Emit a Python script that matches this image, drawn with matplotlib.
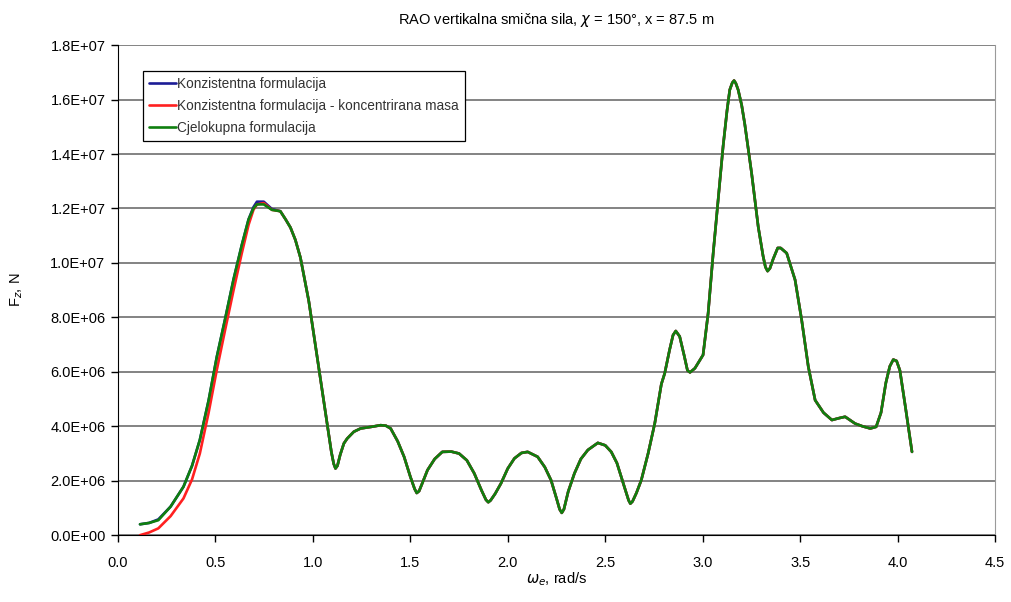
import matplotlib
matplotlib.use("Agg")
import matplotlib.pyplot as plt
from matplotlib.ticker import FuncFormatter, MultipleLocator

plt.rcParams['font.family'] = ['Liberation Sans', 'DejaVu Sans']

# Encounter frequency, rad/s
omega = [0.113, 0.16, 0.207, 0.27, 0.336, 0.38, 0.42, 0.465, 0.507, 0.55, 0.593,
         0.635, 0.67, 0.695, 0.713, 0.748, 0.79, 0.833, 0.86, 0.885, 0.91, 0.936,
         0.979, 1.022, 1.05, 1.073, 1.095, 1.107, 1.116, 1.126, 1.14, 1.159, 1.176,
         1.21, 1.245, 1.3, 1.348, 1.375, 1.399, 1.435, 1.468, 1.50, 1.522, 1.533,
         1.545, 1.562, 1.588, 1.625, 1.664, 1.71, 1.75, 1.79, 1.828, 1.865, 1.888,
         1.9, 1.912, 1.935, 1.965, 2.0, 2.034, 2.07, 2.102, 2.153, 2.19, 2.222,
         2.25, 2.266, 2.277, 2.288, 2.31, 2.342, 2.375, 2.411, 2.462, 2.50, 2.531,
         2.56, 2.582, 2.605, 2.62, 2.629, 2.64, 2.66, 2.685, 2.72, 2.754, 2.788,
         2.805, 2.83, 2.848, 2.862, 2.882, 2.905, 2.922, 2.935, 2.96, 3.002, 3.028,
         3.054, 3.079, 3.105, 3.125, 3.139, 3.152, 3.161, 3.17, 3.182, 3.20, 3.216,
         3.251, 3.285, 3.31, 3.322, 3.333, 3.345, 3.362, 3.385, 3.40, 3.431, 3.474,
         3.508, 3.542, 3.577, 3.62, 3.663, 3.70, 3.731, 3.782, 3.82, 3.86, 3.89,
         3.915, 3.94, 3.96, 3.978, 3.995, 4.012, 4.04, 4.074]

# Low-frequency part where the three formulations differ
low_blue = [0.40e6, 0.45e6, 0.58e6, 1.05e6, 1.78e6, 2.55e6, 3.50e6, 4.95e6,
            6.55e6, 7.95e6, 9.40e6, 10.65e6, 11.60e6, 12.05e6, 12.25e6, 12.25e6,
            11.98e6, 11.90e6]
low_red = [0.00e6, 0.10e6, 0.25e6, 0.70e6, 1.35e6, 2.05e6, 3.00e6, 4.50e6,
           6.07e6, 7.55e6, 9.00e6, 10.35e6, 11.40e6, 11.95e6, 12.15e6, 12.20e6,
           11.95e6, 11.90e6]
low_green = [0.40e6, 0.45e6, 0.55e6, 1.05e6, 1.78e6, 2.55e6, 3.50e6, 4.95e6,
             6.55e6, 7.95e6, 9.40e6, 10.65e6, 11.60e6, 12.00e6, 12.15e6, 12.15e6,
             11.95e6, 11.90e6]

# Common part above ~0.85 rad/s
high = [11.60e6, 11.30e6, 10.85e6, 10.20e6, 8.60e6, 6.55e6, 5.20e6, 4.10e6,
        3.05e6, 2.62e6, 2.45e6, 2.55e6, 2.95e6, 3.37e6, 3.55e6, 3.80e6, 3.92e6,
        3.98e6, 4.04e6, 4.02e6, 3.92e6, 3.45e6, 2.88e6, 2.15e6, 1.70e6, 1.55e6,
        1.62e6, 1.92e6, 2.39e6, 2.80e6, 3.06e6, 3.07e6, 3.00e6, 2.75e6, 2.27e6,
        1.65e6, 1.30e6, 1.21e6, 1.28e6, 1.52e6, 1.90e6, 2.45e6, 2.82e6, 3.02e6,
        3.06e6, 2.88e6, 2.50e6, 2.02e6, 1.35e6, 0.95e6, 0.82e6, 0.95e6, 1.60e6,
        2.27e6, 2.80e6, 3.13e6, 3.39e6, 3.30e6, 3.06e6, 2.65e6, 2.14e6, 1.62e6,
        1.28e6, 1.16e6, 1.24e6, 1.55e6, 2.02e6, 3.00e6, 4.10e6, 5.55e6, 5.94e6,
        6.80e6, 7.35e6, 7.50e6, 7.30e6, 6.60e6, 6.05e6, 5.98e6, 6.13e6, 6.62e6,
        8.15e6, 10.36e6, 12.30e6, 14.30e6, 15.60e6, 16.36e6, 16.62e6, 16.70e6,
        16.60e6, 16.36e6, 15.80e6, 15.10e6, 13.30e6, 11.33e6, 10.25e6, 9.85e6,
        9.70e6, 9.80e6, 10.15e6, 10.55e6, 10.55e6, 10.36e6, 9.38e6, 7.90e6,
        6.19e6, 4.96e6, 4.50e6, 4.23e6, 4.30e6, 4.35e6, 4.10e6, 4.00e6, 3.92e6,
        3.98e6, 4.50e6, 5.60e6, 6.20e6, 6.45e6, 6.40e6, 6.05e6, 4.72e6, 3.06e6]

f_blue = low_blue + high
f_red = low_red + high
f_green = low_green + high

series_names = ["Konzistentna formulacija",
                "Konzistentna formulacija - koncentrirana masa",
                "Cjelokupna formulacija"]
series_colors = ["#1c1c96", "#ff2020", "#0f7f0f"]

fig = plt.figure(figsize=(10.11, 6.02), dpi=100)
ax = fig.add_axes([0.1167, 0.111, 0.8675, 0.814])

for vals, name, col in zip([f_blue, f_red, f_green], series_names, series_colors):
    ax.plot(omega, vals, color=col, lw=1.9, label=name,
            solid_joinstyle='round', solid_capstyle='round')

ax.set_xlim(0.0, 4.5)
ax.set_ylim(0.0, 1.8e7)
ax.xaxis.set_major_locator(MultipleLocator(0.5))
ax.yaxis.set_major_locator(MultipleLocator(2e6))
ax.xaxis.set_major_formatter(FuncFormatter(lambda v, p: f"{v:.1f}"))
ax.yaxis.set_major_formatter(FuncFormatter(lambda v, p: f"{v:.1E}"))

ax.grid(axis='y', color='#7a7a7a', lw=1.3)
ax.set_axisbelow(True)
ax.spines['top'].set_visible(False)
ax.spines['right'].set_color('#9a9a9a')
ax.spines['left'].set_color('black')
ax.spines['bottom'].set_color('black')
ax.tick_params(direction='out', length=5, width=1, labelsize=10.5)
ax.tick_params(axis='x', pad=10)
ax.tick_params(axis='y', pad=4)

ax.set_title(r"RAO vertikalna smična sila, $\chi$ = 150°, x = 87.5 m",
             fontsize=10.5, pad=15)
ax.set_xlabel(r"$\omega_e$, rad/s", fontsize=10.5, labelpad=0)
ax.set_ylabel(r"F$_z$, N", fontsize=10.5, labelpad=18)

leg = ax.legend(loc='upper left', bbox_to_anchor=(0.028, 0.948), fontsize=9.8,
                frameon=True, fancybox=False, framealpha=1, edgecolor='black',
                handlelength=2.0, handletextpad=0.1, borderpad=0.45,
                labelspacing=0.6, borderaxespad=0)
leg.get_frame().set_linewidth(0.9)
for t in leg.get_texts():
    t.set_color('#333333')

fig.savefig("out.png", dpi=100)
